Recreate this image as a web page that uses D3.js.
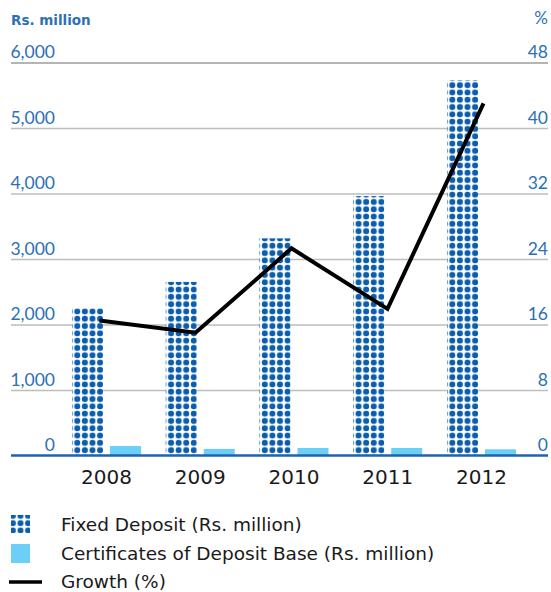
<!DOCTYPE html>
<html>
<head>
<meta charset="utf-8">
<script src="https://cdn.jsdelivr.net/npm/d3@7"></script>
<style>
  html, body { margin: 0; padding: 0; background: #fff; }
  svg { display: block; font-family: "DejaVu Sans", sans-serif; }
</style>
</head>
<body>
<svg id="chart" width="551" height="592"></svg>
<script>
// Deposit base by year
const years = ["2008", "2009", "2010", "2011", "2012"];
const fixedDeposit = [2250, 2650, 3315, 3960, 5730];     // Rs. million
const certificates = [145, 100, 115, 115, 95];           // Rs. million
const growth = [16.5, 15.0, 25.3, 17.9, 43.0];           // %
const leftTicks = [0, 1000, 2000, 3000, 4000, 5000, 6000];
const rightTicks = [0, 8, 16, 24, 32, 40, 48];
const legendLabels = ["Fixed Deposit (Rs. million)", "Certificates of Deposit Base (Rs. million)", "Growth (%)"];

const svg = d3.select("#chart");
const blueText = "#2B70B6";
const dotBlue = "#0B5DAE";
const lightBlue = "#6CCFF6";
const tickFont = "Lato, sans-serif";

const plotLeft = 11, plotRight = 548;
const y = d3.scaleLinear().domain([0, 6000]).range([455.5, 62.5]);
const yPct = d3.scaleLinear().domain([0, 48]).range([455.5, 62.5]);
const x = d3.scaleBand().domain(years).range([59.6, 528.4]).paddingInner(0.264).paddingOuter(0.132);
const xSub = d3.scaleBand().domain(["fd", "cd"]).range([0, x.bandwidth()]).paddingInner(0.184);
const xLine = d3.scalePoint().domain(years).range([99.5, 483.5]);

// Dotted fill used for the fixed deposit bars
const defs = svg.append("defs");
const pat = defs.append("pattern")
  .attr("id", "dots")
  .attr("patternUnits", "userSpaceOnUse")
  .attr("x", 1.5).attr("y", 1.2)
  .attr("width", 7.6).attr("height", 7.3);
pat.append("rect").attr("width", 7.6).attr("height", 7.3).attr("fill", "#fff");
pat.append("circle").attr("cx", 3.8).attr("cy", 3.65).attr("r", 3.0).attr("fill", dotBlue);

// Gridlines
const grid = svg.append("g")
  .attr("transform", `translate(${plotLeft},0)`)
  .call(d3.axisRight(y).tickValues(leftTicks.slice(1)).tickSize(plotRight - plotLeft).tickFormat(""));
grid.select(".domain").remove();
grid.selectAll(".tick line")
  .attr("stroke", d => d === 6000 ? "#9c9c9c" : "#bdbdbd")
  .attr("stroke-width", 1.6);

// Left axis labels (Rs. million)
const leftAxis = svg.append("g")
  .attr("transform", "translate(55,0)")
  .call(d3.axisLeft(y).tickValues(leftTicks).tickSize(0).tickPadding(0).tickFormat(d3.format(",")));
leftAxis.select(".domain").remove();
leftAxis.selectAll("text")
  .attr("dy", "-0.27em")
  .attr("fill", blueText)
  .attr("font-size", 17.5)
  .attr("font-weight", 400)
  .attr("font-family", tickFont);

// Right axis labels (%)
const rightAxis = svg.append("g")
  .attr("transform", `translate(${plotRight},0)`)
  .call(d3.axisLeft(yPct).tickValues(rightTicks).tickSize(0).tickPadding(0));
rightAxis.select(".domain").remove();
rightAxis.selectAll("text")
  .attr("dy", "-0.27em")
  .attr("fill", blueText)
  .attr("font-size", 17.5)
  .attr("font-weight", 400)
  .attr("font-family", tickFont);

svg.append("text").attr("x", 11).attr("y", 25)
  .attr("fill", blueText).attr("font-size", 13.5).attr("font-weight", 700)
  .text("Rs. million");
svg.append("text").attr("x", plotRight).attr("y", 24).attr("text-anchor", "end")
  .attr("fill", blueText).attr("font-size", 17).attr("font-family", tickFont)
  .text("%");

// Bars
const groups = svg.append("g").selectAll("g")
  .data(years.map((yr, i) => ({ yr, fd: fixedDeposit[i], cd: certificates[i] })))
  .join("g")
  .attr("transform", d => `translate(${x(d.yr)},0)`);
groups.append("rect")
  .attr("x", xSub("fd")).attr("width", xSub.bandwidth())
  .attr("y", d => y(d.fd)).attr("height", d => y(0) - y(d.fd))
  .attr("fill", "url(#dots)");
groups.append("rect")
  .attr("x", xSub("cd")).attr("width", xSub.bandwidth())
  .attr("y", d => y(d.cd)).attr("height", d => y(0) - y(d.cd))
  .attr("fill", lightBlue);

// Baseline
svg.append("line")
  .attr("x1", plotLeft).attr("x2", plotRight)
  .attr("y1", y(0)).attr("y2", y(0))
  .attr("stroke", "#1F63AE").attr("stroke-width", 2.5);

// Category labels
const xAxis = svg.append("g")
  .attr("transform", `translate(0,${y(0)})`)
  .call(d3.axisBottom(x).tickSize(0).tickPadding(14));
xAxis.select(".domain").remove();
xAxis.selectAll("text")
  .attr("fill", "#1a1a1a")
  .attr("font-size", 20)
  .attr("font-family", "DejaVu Sans, sans-serif");

// Growth line
const line = d3.line()
  .x((d, i) => xLine(years[i]))
  .y(d => yPct(d));
svg.append("path")
  .datum(growth)
  .attr("d", line)
  .attr("fill", "none")
  .attr("stroke", "#000")
  .attr("stroke-width", 4)
  .attr("stroke-linejoin", "miter");

// Legend
const legend = svg.append("g");
legend.append("rect").attr("x", 11).attr("y", 515).attr("width", 19).attr("height", 18).attr("fill", "url(#dots)");
legend.append("rect").attr("x", 11).attr("y", 544).attr("width", 19).attr("height", 19).attr("fill", lightBlue);
legend.append("line").attr("x1", 9).attr("x2", 42).attr("y1", 582).attr("y2", 582)
  .attr("stroke", "#000").attr("stroke-width", 3.5);
legend.selectAll("text.lg")
  .data(legendLabels)
  .join("text")
  .attr("class", "lg")
  .attr("x", 61)
  .attr("y", (d, i) => 531 + i * 28.5)
  .attr("fill", "#1a1a1a")
  .attr("font-size", 18.5)
  .text(d => d);
</script>
</body>
</html>
